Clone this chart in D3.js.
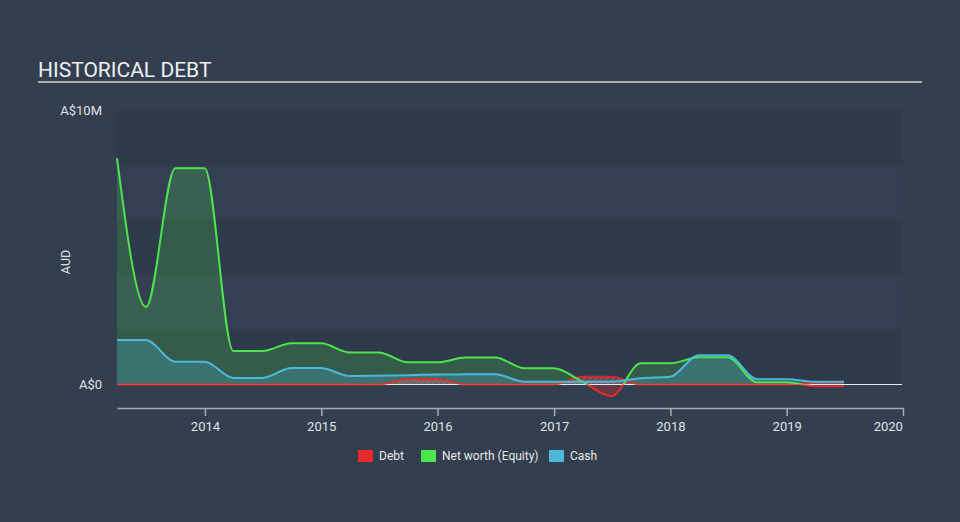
<!DOCTYPE html>
<html><head><meta charset="utf-8">
<script src="https://cdn.jsdelivr.net/npm/d3@7"></script>
<style>
html,body{margin:0;padding:0;background:#333f4f;}
svg{display:block;font-family:Roboto,"Open Sans",sans-serif;}
</style></head>
<body>
<svg id="c" width="960" height="522"></svg>
<script>
// ---- data (A$ millions) ----
const dates = ["2013-03-31","2013-06-30","2013-09-30","2013-12-31",
  "2014-03-31","2014-06-30","2014-09-30","2014-12-31",
  "2015-03-31","2015-06-30","2015-09-30","2015-12-31",
  "2016-03-31","2016-06-30","2016-09-30","2016-12-31",
  "2017-03-31","2017-06-30","2017-09-30","2017-12-31",
  "2018-03-31","2018-06-30","2018-09-30","2018-12-31",
  "2019-03-31","2019-06-30"];
const debt =     [0,0,0,0, 0,0,0,0, 0,0,0.2,0.2, 0,0,0,0, 0.28,0.28,0,0, 0,0,0,0, 0.08,0.08];
const netWorth = [8.25,2.82,7.88,7.88, 1.22,1.22,1.5,1.5, 1.17,1.17,0.81,0.81, 0.98,0.98,0.59,0.59, 0.1,-0.42,0.77,0.77, 0.99,0.99,0.08,0.08, -0.06,-0.06];
const cash =     [1.62,1.62,0.83,0.83, 0.24,0.24,0.6,0.6, 0.31,0.32,0.34,0.36, 0.37,0.37,0.1,0.1, 0.1,0.1,0.23,0.28, 1.07,1.07,0.19,0.19, 0.1,0.1];
const yTicks = [0, 10];
const yTickLabels = ["A$0", "A$10M"];
const xTicks = ["2014","2015","2016","2017","2018","2019","2020"];
const legendItems = ["Debt", "Net worth (Equity)", "Cash"];

const C = {debt:"#e52b2b", nw:"#4ee44e", cash:"#4cb8dc"};
const parse = d3.timeParse("%Y-%m-%d");
const rows = dates.map((d,i)=>({date:parse(d), debt:debt[i], nw:netWorth[i], cash:cash[i]}));

const svg = d3.select("#c");
const L = 117, R = 903, T = 110, B = 384.5;

const x = d3.scaleTime().domain([parse("2013-03-31"), parse("2020-01-01")]).range([L, R]);
const y = d3.scaleLinear().domain([0, 10]).range([B, T]);

// title
svg.append("text").attr("x",38).attr("y",77).attr("fill","#eef0f2")
  .attr("font-size",21).text("HISTORICAL DEBT");
svg.append("rect").attr("x",38).attr("y",81).attr("width",884).attr("height",2).attr("fill","#a9adb2");

// background bands
const bands = d3.range(5);
svg.append("g").selectAll("rect").data(bands).join("rect")
  .attr("x",L).attr("width",902-L)
  .attr("y",i=>y(10-2*i)).attr("height",i=>y(8-2*i)-y(10-2*i))
  .attr("fill",i=>i%2===0?"#2f3a4a":"#344051");

// defs
const defs = svg.append("defs");
defs.append("clipPath").attr("id","above").append("rect")
  .attr("x",0).attr("y",0).attr("width",960).attr("height",B);
defs.append("clipPath").attr("id","below").append("rect")
  .attr("x",0).attr("y",B).attr("width",960).attr("height",522-B);
const pat = defs.append("pattern").attr("id","hatch").attr("patternUnits","userSpaceOnUse")
  .attr("width",4).attr("height",4).attr("patternTransform","rotate(45)");
pat.append("rect").attr("width",4).attr("height",4).attr("fill","rgba(120,110,120,0.35)");
pat.append("rect").attr("width",2).attr("height",4).attr("fill","rgba(229,80,80,0.55)");

const curve = d3.curveMonotoneX;
const area = key => d3.area().x(d=>x(d.date)).y0(y(0)).y1(d=>y(d[key])).curve(curve);
const line = key => d3.line().x(d=>x(d.date)).y(d=>y(d[key])).curve(curve);

// net worth area
svg.append("path").datum(rows).attr("d",area("nw")).attr("fill","rgba(78,226,78,0.2)").attr("clip-path","url(#above)");
svg.append("path").datum(rows).attr("d",area("nw")).attr("fill","rgba(229,43,43,0.3)").attr("clip-path","url(#below)");
// cash area
svg.append("path").datum(rows).attr("d",area("cash")).attr("fill","rgba(76,184,220,0.25)");
// debt hatched area
svg.append("path").datum(rows).attr("d",area("debt")).attr("fill","url(#hatch)");

// zero line
svg.append("line").attr("x1",L).attr("x2",902).attr("y1",y(0)).attr("y2",y(0))
  .attr("stroke","#e8eaec").attr("stroke-width",1.2);

// lines
svg.append("path").datum(rows).attr("d",line("debt")).attr("fill","none")
  .attr("stroke",C.debt).attr("stroke-width",2).attr("stroke-opacity",0.85);
svg.append("path").datum(rows).attr("d",line("nw")).attr("fill","none")
  .attr("stroke",C.nw).attr("stroke-width",2).attr("clip-path","url(#above)");
svg.append("path").datum(rows).attr("d",line("nw")).attr("fill","none")
  .attr("stroke",C.debt).attr("stroke-width",2).attr("clip-path","url(#below)");
svg.append("path").datum(rows).attr("d",line("cash")).attr("fill","none")
  .attr("stroke",C.cash).attr("stroke-width",2);

// x axis
const xa = svg.append("g").attr("transform",`translate(0,408)`)
  .call(d3.axisBottom(x).tickValues(xTicks.map(t=>parse(t+"-01-01"))).tickFormat(d3.timeFormat("%Y")).tickSize(8).tickSizeOuter(0));
xa.select(".domain").attr("stroke","#a9adb2").attr("stroke-width",1.5);
xa.selectAll(".tick line").attr("stroke","#a9adb2").attr("stroke-width",1.5);
xa.selectAll(".tick text").attr("fill","#dfe2e5").attr("font-size",13).attr("dy","0.9em")
  .attr("font-family","Roboto,sans-serif");
xa.selectAll(".tick text").filter((d,i)=>i===xTicks.length-1).attr("text-anchor","end").attr("dx","-0.05em");

// y labels
svg.append("g").selectAll("text").data(yTicks).join("text")
  .attr("x",102).attr("y",d=>y(d)).attr("dy","0.35em").attr("text-anchor","end")
  .attr("fill","#dfe2e5").attr("font-size",13).text((d,i)=>yTickLabels[i]);
svg.append("text").attr("transform","translate(70,262) rotate(-90)").attr("text-anchor","middle")
  .attr("fill","#dfe2e5").attr("font-size",12.5).text("AUD");

// legend
const lx = [358, 421, 549];
const lc = [C.debt, C.nw, C.cash];
const lg = svg.append("g").selectAll("g").data(legendItems).join("g")
  .attr("transform",(d,i)=>`translate(${lx[i]},450)`);
lg.append("rect").attr("width",15).attr("height",12).attr("fill",(d,i)=>lc[i]);
lg.append("text").attr("x",21).attr("y",6).attr("dy","0.35em").attr("fill","#e6e8ea")
  .attr("font-size",12).text(d=>d);
</script>
</body></html>
